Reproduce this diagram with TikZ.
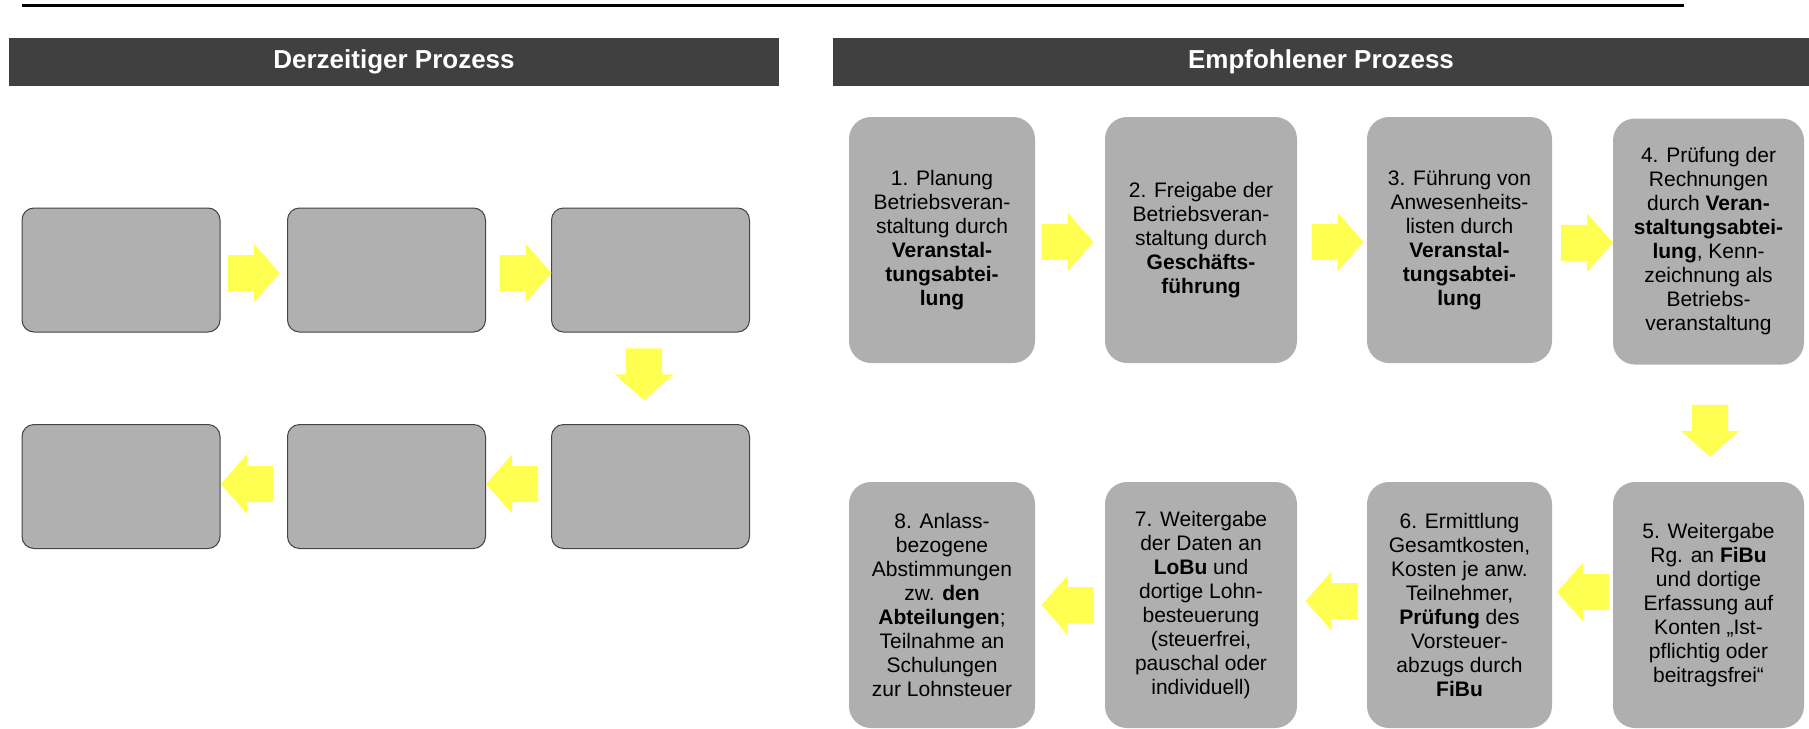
\documentclass[tikz,border=0pt]{standalone}
\usepackage{fontspec}
\setmainfont{Liberation Sans}
\usetikzlibrary{calc}
\definecolor{hdr}{HTML}{404040}
\definecolor{boxgray}{HTML}{AFAFAF}
\definecolor{oldgray}{HTML}{B0B0B0}
\definecolor{oldedge}{HTML}{444444}
\definecolor{arrowyellow}{HTML}{FFFF52}
\begin{document}
\begin{tikzpicture}[x=1pt,y=-1pt,
  header/.style={fill=hdr, text=white, font=\fontsize{26}{30}\selectfont\bfseries, inner sep=0, minimum height=48pt},
  oldbox/.style={draw=oldedge, line width=1pt, fill=oldgray, rounded corners=12pt, minimum width=198pt, minimum height=124pt, inner sep=0},
  stepbox/.style={fill=boxgray, rounded corners=22pt, minimum width=188pt, minimum height=246pt, inner sep=0, align=center, font=\fontsize{21}{24}\selectfont},
  barrow/.pic={\fill[arrowyellow] (-26,-18) -- (0,-18) -- (0,-29.5) -- (26,0) -- (0,29.5) -- (0,18) -- (-26,18) -- cycle;}
]
\useasboundingbox (0,0) rectangle (1809,728);
% top rule
\coordinate (tl1) at (22,5.5);
\coordinate (tl2) at (1684,5.5);
\draw[line width=3.2pt] (tl1) -- (tl2);
% headers
\node[header, minimum width=770pt] (h1) at (394,62) {Derzeitiger Prozess};
\node[header, minimum width=976pt] (h2) at (1321,62) {Empfohlener Prozess};
% left panel (empty boxes)
\node[oldbox] (o1) at (121,270) {};
\node[oldbox] (o2) at (386.5,270) {};
\node[oldbox] (o3) at (650.5,270) {};
\node[oldbox] (o4) at (650.5,486.5) {};
\node[oldbox] (o5) at (386.5,486.5) {};
\node[oldbox] (o6) at (121,486.5) {};
\pic at ($(o1.east)!0.5!(o2.west)+(0,3)$) {barrow};
\pic at ($(o2.east)!0.5!(o3.west)+(7,3)$) {barrow};
\pic[rotate=-90] at ($(o3.south)!0.5!(o4.north)+(-6.5,-4)$) {barrow};
\pic[rotate=180] at ($(o4.west)!0.5!(o5.east)+(-6.5,-2.5)$) {barrow};
\pic[rotate=180] at ($(o5.west)!0.5!(o6.east)+(-7,-2.5)$) {barrow};
% right panel
\node[stepbox, minimum width=186pt] (n1) at (942,240) {1. Planung\\Betriebsveran-\\staltung durch\\\textbf{Veranstal-}\\\textbf{tungsabtei-}\\\textbf{lung}};
\node[stepbox, minimum width=192pt] (n2) at (1201,240) {2. Freigabe der\\Betriebsveran-\\staltung durch\\\textbf{Geschäfts-}\\\textbf{führung}};
\node[stepbox, minimum width=185pt] (n3) at (1459.5,240) {3. Führung von\\Anwesenheits-\\listen durch\\\textbf{Veranstal-}\\\textbf{tungsabtei-}\\\textbf{lung}};
\node[stepbox, minimum width=191pt] (n4) at (1708.5,241.5) {4. Prüfung der\\Rechnungen\\durch \textbf{Veran-}\\\textbf{staltungsabtei-}\\\textbf{lung}, Kenn-\\zeichnung als\\Betriebs-\\veranstaltung};
\node[stepbox, minimum width=191pt] (n5) at (1708.5,605) {5. Weitergabe\\Rg. an \textbf{FiBu}\\und dortige\\Erfassung auf\\Konten „Ist-\\pflichtig oder\\beitragsfrei“};
\node[stepbox, minimum width=185pt] (n6) at (1459.5,605) {6. Ermittlung\\Gesamtkosten,\\Kosten je anw.\\Teilnehmer,\\\textbf{Prüfung} des\\Vorsteuer-\\abzugs durch\\\textbf{FiBu}};
\node[stepbox, minimum width=192pt] (n7) at (1201,605) {7. Weitergabe\\der Daten an\\\textbf{LoBu} und\\dortige Lohn-\\besteuerung\\(steuerfrei,\\pauschal oder\\individuell)};
\node[stepbox, minimum width=186pt] (n8) at (942,605) {8. Anlass-\\bezogene\\Abstimmungen\\zw. \textbf{den}\\\textbf{Abteilungen};\\Teilnahme an\\Schulungen\\zur Lohnsteuer};
\pic at ($(n1.east)!0.5!(n2.west)+(-2.5,2)$) {barrow};
\pic at ($(n2.east)!0.5!(n3.west)+(5.5,2)$) {barrow};
\pic at ($(n3.east)!0.5!(n4.west)+(4.5,2)$) {barrow};
\pic[rotate=-90] at ($(n4.south)!0.5!(n5.north)+(1.5,7.5)$) {barrow};
\pic[rotate=180] at ($(n5.west)!0.5!(n6.east)+(0.5,-13)$) {barrow};
\pic[rotate=180] at ($(n6.west)!0.5!(n7.east)+(-0.5,-4)$) {barrow};
\pic[rotate=180] at ($(n7.west)!0.5!(n8.east)+(-2.5,0)$) {barrow};
\end{tikzpicture}
\end{document}
